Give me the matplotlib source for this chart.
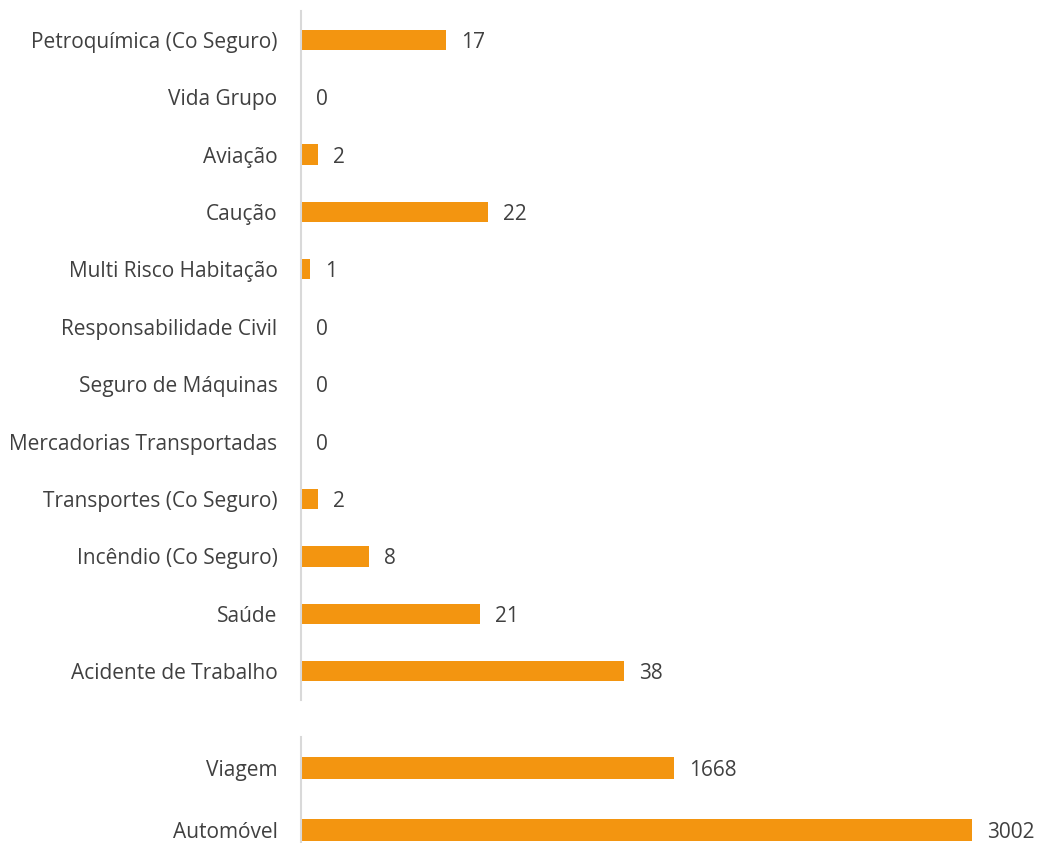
import matplotlib
matplotlib.use("Agg")
import matplotlib.pyplot as plt

# Data (top to bottom)
cats_top = ["Petroquímica (Co Seguro)", "Vida Grupo", "Aviação", "Caução",
            "Multi Risco Habitação", "Responsabilidade Civil", "Seguro de Máquinas",
            "Mercadorias Transportadas", "Transportes (Co Seguro)", "Incêndio (Co Seguro)",
            "Saúde", "Acidente de Trabalho"]
vals_top = [17, 0, 2, 22, 1, 0, 0, 0, 2, 8, 21, 38]
cats_bot = ["Viagem", "Automóvel"]
vals_bot = [1668, 3002]

BAR = "#F39510"
TXT = "#404040"
AX = "#D9D9D9"
FONT = ["Open Sans", "DejaVu Sans"]
plt.rcParams['font.family'] = FONT
FS = 15

W, H = 1037, 843
fig = plt.figure(figsize=(W / 100, H / 100), dpi=100)

x0 = 301 / W
wid = (W - 301) / W
ax1 = fig.add_axes([x0, (H - 700) / H, wid, 689 / H])
ax2 = fig.add_axes([x0, (H - 861) / H, wid, 124 / H])


def draw(ax, cats, vals, xmax):
    n = len(cats)
    ys = list(range(n - 1, -1, -1))
    ax.barh(ys, vals, height=0.35, color=BAR, zorder=2)
    ax.set_ylim(-0.5, n - 0.5)
    ax.set_xlim(0, xmax)
    ax.set_yticks(ys)
    ax.set_yticklabels(cats, fontsize=FS, color=TXT)
    ax.tick_params(axis='y', length=0, pad=17)
    ax.set_xticks([])
    for s in ["top", "right", "bottom"]:
        ax.spines[s].set_visible(False)
    ax.spines["left"].set_color(AX)
    ax.spines["left"].set_linewidth(1.5)
    for y, v in zip(ys, vals):
        ax.annotate(str(v), (v, y), xytext=(11, 0), textcoords="offset points",
                    va="center_baseline", ha="left", fontsize=FS, color=TXT)


draw(ax1, cats_top, vals_top, (W - 301) / 8.5)
draw(ax2, cats_bot, vals_bot, (W - 301) / 0.2235)

fig.savefig("out.png", dpi=100)
